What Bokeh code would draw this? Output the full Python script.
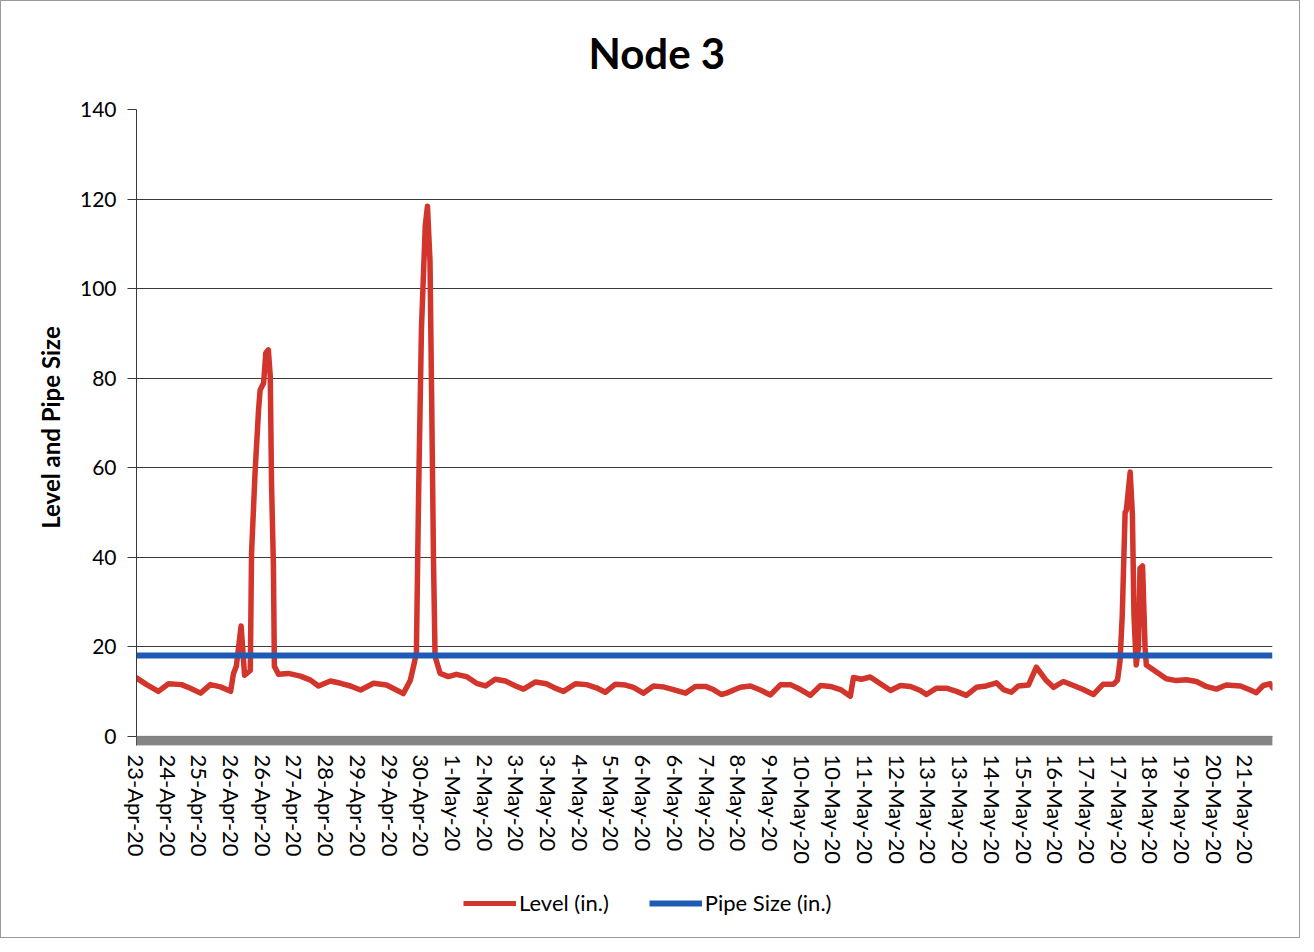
from bokeh.plotting import figure
from bokeh.layouts import column
from bokeh.models import (Range1d, FixedTicker, Legend, LegendItem, BoxAnnotation, Label)
from bokeh.embed import file_html
from bokeh.resources import INLINE

# ---------------- data ----------------
title_text = "Node 3"
tick_labels = ["23-Apr-20", "24-Apr-20", "25-Apr-20", "26-Apr-20", "26-Apr-20", "27-Apr-20",
               "28-Apr-20", "29-Apr-20", "29-Apr-20", "30-Apr-20", "1-May-20", "2-May-20",
               "3-May-20", "3-May-20", "4-May-20", "5-May-20", "6-May-20", "6-May-20",
               "7-May-20", "8-May-20", "9-May-20", "10-May-20", "10-May-20", "11-May-20",
               "12-May-20", "13-May-20", "13-May-20", "14-May-20", "15-May-20", "16-May-20",
               "17-May-20", "17-May-20", "18-May-20", "19-May-20", "20-May-20", "21-May-20"]

# position along the axis (in label steps) and level readings
level_pos = [0.00, 0.32, 0.69, 1.01, 1.42, 1.70, 2.02, 2.33, 2.65, 2.97,
             3.06, 3.15, 3.30, 3.41, 3.59, 3.63, 3.74, 3.85, 3.90, 4.01,
             4.08, 4.16, 4.22, 4.26, 4.32, 4.35, 4.48, 4.79, 5.17, 5.49,
             5.74, 6.12, 6.44, 6.75, 7.07, 7.48, 7.89, 8.20, 8.42, 8.64,
             8.74, 8.83, 8.90, 8.99, 9.11, 9.18, 9.26, 9.31, 9.37, 9.42,
             9.58, 9.84, 10.09, 10.41, 10.73, 11.01, 11.32, 11.64, 11.96, 12.21,
             12.59, 12.93, 13.25, 13.47, 13.85, 14.20, 14.51, 14.79, 15.11, 15.43,
             15.68, 15.99, 16.31, 16.62, 16.94, 17.32, 17.63, 17.95, 18.20, 18.45,
             18.61, 19.05, 19.37, 19.68, 20.00, 20.32, 20.63, 20.95, 21.26, 21.58,
             21.89, 22.21, 22.52, 22.62, 22.87, 23.15, 23.47, 23.79, 24.10, 24.42,
             24.73, 24.92, 25.24, 25.55, 25.87, 26.18, 26.50, 26.81, 27.13, 27.35,
             27.60, 27.82, 28.14, 28.39, 28.68, 28.93, 29.24, 29.56, 29.87, 30.19,
             30.50, 30.82, 30.95, 31.03, 31.10, 31.19, 31.23, 31.35, 31.42, 31.47,
             31.54, 31.61, 31.66, 31.74, 31.82, 31.86, 32.18, 32.49, 32.81, 33.12,
             33.44, 33.75, 34.07, 34.38, 34.83, 35.14, 35.33, 35.55, 35.77, 35.84]
level_in = [13.0, 11.5, 10.0, 11.7, 11.5, 10.7, 9.6, 11.5, 11.0, 10.0,
            14.0, 15.6, 24.6, 13.6, 14.7, 40.9, 58.8, 72.8, 77.3, 78.9,
            85.6, 86.3, 80.4, 56.5, 38.0, 15.6, 13.8, 14.0, 13.4, 12.5,
            11.2, 12.3, 11.8, 11.2, 10.3, 11.8, 11.4, 10.3, 9.5, 12.5,
            15.6, 18.5, 54.0, 91.0, 114.0, 118.4, 106.0, 76.6, 39.4, 17.8,
            14.0, 13.3, 13.8, 13.3, 11.8, 11.2, 12.7, 12.3, 11.2, 10.5,
            12.1, 11.7, 10.6, 10.0, 11.7, 11.5, 10.8, 9.8, 11.6, 11.4,
            10.9, 9.6, 11.2, 11.0, 10.4, 9.6, 11.1, 11.1, 10.4, 9.3,
            9.6, 10.9, 11.2, 10.3, 9.2, 11.5, 11.5, 10.4, 9.1, 11.3,
            11.1, 10.4, 8.9, 13.1, 12.7, 13.2, 11.7, 10.2, 11.3, 11.1,
            10.2, 9.3, 10.7, 10.7, 10.0, 9.1, 10.9, 11.2, 11.9, 10.4,
            9.8, 11.2, 11.4, 15.4, 12.6, 10.9, 12.2, 11.3, 10.4, 9.3,
            11.6, 11.6, 12.5, 16.8, 27.0, 50.0, 50.5, 59.0, 49.4, 27.0,
            15.9, 19.7, 37.5, 38.0, 19.7, 15.9, 14.3, 12.8, 12.4, 12.6,
            12.2, 11.1, 10.5, 11.4, 11.2, 10.3, 9.7, 11.3, 11.7, 10.8]

pipe_pos = [0.00, 35.84]
pipe_size_in = [18.0, 18.0]

y_ticks = [0, 20, 40, 60, 80, 100, 120, 140]
series_names = ["Level (in.)", "Pipe Size (in.)"]
series_colors = ["#D2352B", "#1F5AB4"]

FONT = "Lato"
W = 1298
BL, BR = 135, 27          # left / right borders shared by all strips
FW = W - BL - BR          # frame width


def strip(height):
    f = figure(width=W, height=height, output_backend="svg", toolbar_location=None,
               x_range=Range1d(0, FW), y_range=Range1d(0, height),
               x_axis_type=None, y_axis_type=None,
               min_border_left=BL, min_border_right=BR, min_border_top=0,
               min_border_bottom=0)
    f.outline_line_color = None
    f.xgrid.grid_line_color = None
    f.ygrid.grid_line_color = None
    f.border_fill_color = "white"
    f.background_fill_color = "white"
    return f


# ---------------- title strip ----------------
TH = 90
ts = strip(TH)
ts.add_layout(Label(x=452, y=39, text=title_text, text_font=FONT, text_font_size="42px",
                    text_font_style="bold", text_color="black",
                    text_align="left", text_baseline="alphabetic"))

# ---------------- main figure ----------------
p = figure(width=W, height=790, output_backend="svg", toolbar_location=None,
           x_range=Range1d(0, 35.84), y_range=Range1d(-2.1, 140),
           min_border_left=BL, min_border_right=BR, min_border_top=18,
           min_border_bottom=136)
p.outline_line_color = None
p.background_fill_color = "white"
p.border_fill_color = "white"

# grid
p.xgrid.grid_line_color = None
p.ygrid.ticker = FixedTicker(ticks=y_ticks)
p.ygrid.grid_line_color = "#3a3a3a"
p.ygrid.grid_line_width = 1

# y axis
p.yaxis.ticker = FixedTicker(ticks=y_ticks)
p.yaxis.axis_label = "Level and Pipe Size"
p.yaxis.axis_label_text_font = FONT
p.yaxis.axis_label_text_font_size = "24px"
p.yaxis.axis_label_text_font_style = "bold"
p.yaxis.axis_label_text_color = "black"
p.yaxis.axis_label_standoff = 12
p.yaxis.major_label_text_font = FONT
p.yaxis.major_label_text_font_size = "21px"
p.yaxis.major_label_text_color = "black"
p.yaxis.major_label_standoff = 11
p.yaxis.axis_line_color = "#3a3a3a"
p.yaxis.major_tick_line_color = "#3a3a3a"
p.yaxis.major_tick_out = 9
p.yaxis.major_tick_in = 0
p.yaxis.minor_tick_line_color = None

# x axis
p.xaxis.ticker = FixedTicker(ticks=list(range(len(tick_labels))))
p.xaxis.major_label_overrides = {i: lab for i, lab in enumerate(tick_labels)}
p.xaxis.major_label_orientation = "vertical"
p.xaxis.major_label_text_font = FONT
p.xaxis.major_label_text_font_size = "22px"
p.xaxis.major_label_text_color = "black"
p.xaxis.major_label_standoff = 3
p.xaxis.axis_line_color = None
p.xaxis.major_tick_line_color = None
p.xaxis.minor_tick_line_color = None

# thick grey category-axis band below zero
p.add_layout(BoxAnnotation(bottom=-2.1, top=0, fill_color="#858585", fill_alpha=1,
                           line_color="#6f6f6f", line_width=1))

p.line(level_pos, level_in, line_color=series_colors[0], line_width=5.5,
       line_join="round", line_cap="round")
p.line(pipe_pos, pipe_size_in, line_color=series_colors[1], line_width=6)

# ---------------- legend strip ----------------
LH = 56
lg = strip(LH)
# legend proxies placed outside the visible range (only their legend swatches show)
lg_r1 = lg.line([-20, -10], [-20, -20], line_color=series_colors[0], line_width=5)
lg_r2 = lg.line([-20, -10], [-20, -20], line_color=series_colors[1], line_width=6)
legend = Legend(items=[LegendItem(label=series_names[0], renderers=[lg_r1]),
                       LegendItem(label=series_names[1], renderers=[lg_r2])],
                orientation="horizontal", location=(327, 21))
legend.label_text_font = FONT
legend.label_text_font_size = "22px"
legend.label_text_color = "black"
legend.glyph_width = 53
legend.glyph_height = 24
legend.label_standoff = 3
legend.spacing = 40
legend.padding = 0
legend.margin = 0
legend.border_line_color = None
legend.background_fill_alpha = 0
lg.add_layout(legend, "center")

layout = column(ts, p, lg, spacing=0, styles={"border": "1px solid #9a9a9a"})

open("out.html", "w").write(file_html(layout, INLINE))
